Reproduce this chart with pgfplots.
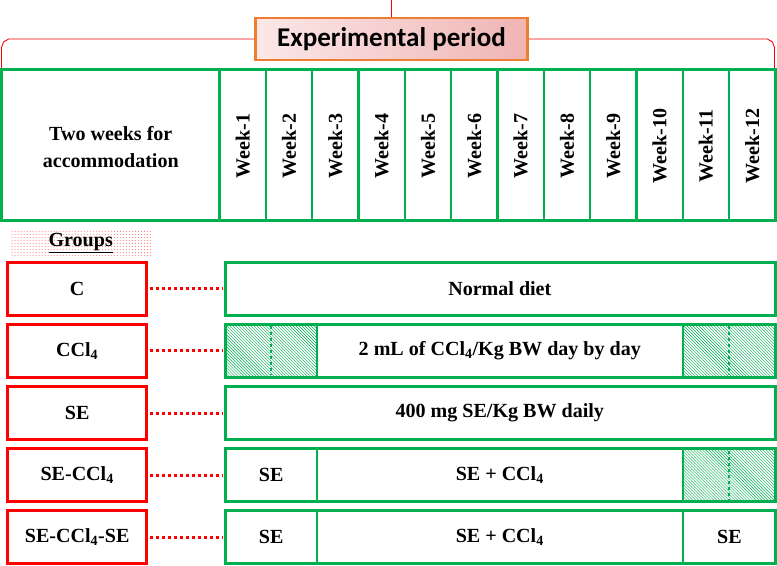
\documentclass[border=0pt]{standalone}
\usepackage{fontspec}
\setmainfont{Liberation Serif}
\newfontfamily\calfont{Carlito}
\usepackage{pgfplots}
\pgfplotsset{compat=1.18}
\usetikzlibrary{patterns}
\definecolor{grn}{RGB}{0,176,80}
\definecolor{orn}{RGB}{237,125,49}
\definecolor{pkL}{RGB}{251,232,232}
\definecolor{pkR}{RGB}{240,180,180}
\tikzset{txt/.style={font=\bfseries\fontsize{20}{24}\selectfont, inner sep=0pt}}
\begin{document}
\begin{tikzpicture}
\begin{axis}[scale only axis, width=777pt, height=564pt,
  xmin=0, xmax=777, ymin=0, ymax=564, y dir=reverse,
  hide axis, clip=false]
% brace and title
\addplot[red, line width=0.9pt] coordinates {(392,0) (392,17)};
\addplot[red, line width=0.9pt] coordinates {(3,70) (3,47) (5,41.5) (10,38.5) (256,38.5)};
\addplot[red, line width=0.9pt] coordinates {(528,38.5) (767,38.5) (772,41.5) (774,47) (774,70)};
\node[draw=orn, line width=2.5pt, left color=pkL, right color=pkR, minimum width=271pt, minimum height=42pt,
  font=\calfont\bfseries\fontsize{27}{30}\selectfont] at (axis cs:392,38.5) {Experimental period};
% header box
\addplot[grn, line width=3pt] coordinates {(3,69) (775,69) (775,219) (3,219)} -- cycle;
\pgfplotsinvokeforeach{220.5,266.7,312.9,359.1,405.3,451.5,497.7,543.9,590.1,636.3,682.5,728.7}{
  \addplot[grn, line width=2.5pt] coordinates {(#1,69) (#1,219)};
}
\node[txt, align=center] at (axis cs:112,146) {Two weeks for\\[3pt]accommodation};
\pgfplotsinvokeforeach{1,...,12}{
  \node[txt, rotate=90] at (axis cs:{220.5+46.2*(#1-0.5)},145) {Week-#1};
}
% groups label
\addplot[draw=none, pattern=dots, pattern color=red!60] coordinates {(12,228) (153,228) (153,255) (12,255)} -- cycle;
\node[txt] at (axis cs:82,242) {\underline{Groups}};
% hatched fills
\addplot[draw=none, pattern=north west lines, pattern color=grn] coordinates {(226,323) (318,323) (318,376) (226,376)} -- cycle;
\addplot[draw=none, pattern=north west lines, pattern color=grn] coordinates {(683,323) (775,323) (775,376) (683,376)} -- cycle;
\addplot[draw=none, pattern=north west lines, pattern color=grn] coordinates {(683,447) (775,447) (775,500) (683,500)} -- cycle;
% group boxes
\pgfplotsinvokeforeach{261,323,385,447,509}{
  \addplot[red, line width=3pt] coordinates {(9,#1) (148,#1) (148,#1+53) (9,#1+53)} -- cycle;
  \addplot[grn, line width=3pt] coordinates {(226,#1) (775,#1) (775,#1+53) (226,#1+53)} -- cycle;
  \addplot[red, line width=3pt, dash pattern=on 3pt off 3pt] coordinates {(151,#1+26.5) (224,#1+26.5)};
}
% inner dividers
\addplot[grn, line width=2pt] coordinates {(318,323) (318,376)};
\addplot[grn, line width=2pt] coordinates {(683,323) (683,376)};
\addplot[grn, line width=2pt] coordinates {(318,447) (318,500)};
\addplot[grn, line width=2pt] coordinates {(683,447) (683,500)};
\addplot[grn, line width=2pt] coordinates {(318,509) (318,562)};
\addplot[grn, line width=2pt] coordinates {(683,509) (683,562)};
% dotted green lines in hatched parts
\addplot[grn, line width=2pt, dash pattern=on 3pt off 3pt] coordinates {(272,325) (272,374)};
\addplot[grn, line width=2pt, dash pattern=on 3pt off 3pt] coordinates {(729,325) (729,374)};
\addplot[grn, line width=2pt, dash pattern=on 3pt off 3pt] coordinates {(729,449) (729,498)};
% group names
\node[txt] at (axis cs:78.5,287.5) {C};
\node[txt] at (axis cs:78.5,349.5) {CCl\textsubscript{4}};
\node[txt] at (axis cs:78.5,411.5) {SE};
\node[txt] at (axis cs:78.5,473.5) {SE-CCl\textsubscript{4}};
\node[txt] at (axis cs:78.5,535.5) {SE-CCl\textsubscript{4}-SE};
% treatments
\node[txt] at (axis cs:500,287.5) {Normal diet};
\node[txt] at (axis cs:500,349.5) {2 mL of CCl\textsubscript{4}/Kg BW day by day};
\node[txt] at (axis cs:500,411.5) {400 mg SE/Kg BW daily};
\node[txt] at (axis cs:272,473.5) {SE};
\node[txt] at (axis cs:500,473.5) {SE + CCl\textsubscript{4}};
\node[txt] at (axis cs:272,535.5) {SE};
\node[txt] at (axis cs:500,535.5) {SE + CCl\textsubscript{4}};
\node[txt] at (axis cs:729,535.5) {SE};
\end{axis}
\end{tikzpicture}
\end{document}
